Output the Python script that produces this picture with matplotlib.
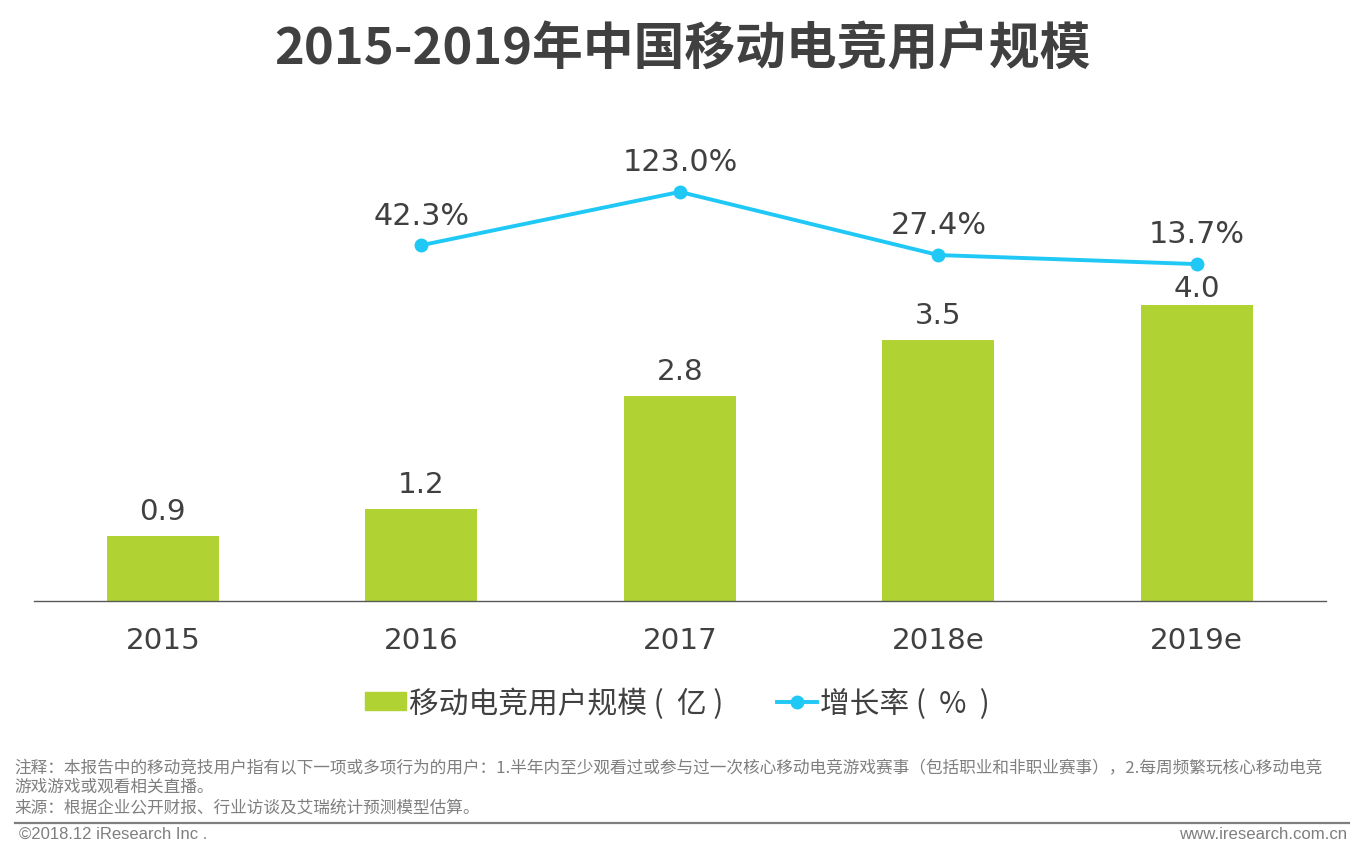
import matplotlib
matplotlib.use("Agg")
import matplotlib.pyplot as plt
from matplotlib.lines import Line2D
from matplotlib.patches import Patch

W, H = 1358, 854
CJK = ['Noto Sans CJK SC', 'DejaVu Sans']
plt.rcParams['font.family'] = CJK

years = ['2015', '2016', '2017', '2018e', '2019e']
users = [0.87, 1.24, 2.76, 3.52, 4.0]
growth_years = [1, 2, 3, 4]
growth = [42.3, 123.0, 27.4, 13.7]
title = '2015-2019年中国移动电竞用户规模'
legend_bar = '移动电竞用户规模 (  亿 )'
legend_line = '增长率 (  %  )'
note1 = '注释：本报告中的移动竞技用户指有以下一项或多项行为的用户：1.半年内至少观看过或参与过一次核心移动电竞游戏赛事（包括职业和非职业赛事），2.每周频繁玩核心移动电竞'
note2 = '游戏游戏或观看相关直播。'
note3 = '来源：根据企业公开财报、行业访谈及艾瑞统计预测模型估算。'
copyright_text = '©2018.12 iResearch Inc .'
site = 'www.iresearch.com.cn'

GREEN = '#B0D232'
BLUE = '#1FC8F5'
DARK = '#404040'
GREY = '#7F7F7F'

fig = plt.figure(figsize=(W / 100, H / 100), dpi=100, facecolor='white')
def fx(x): return x / W
def fy(y): return 1 - y / H

ax = fig.add_axes([fx(33.7), fy(601.5), (1326 - 33.7) / W, (601.5 - 100) / H])
ax.set_xlim(-0.5, 4.5)
ax.set_ylim(0, 501.5 / 74)
bars = ax.bar(range(len(users)), users, width=112 / 258.4, color=GREEN, zorder=2)
for s in ['top', 'left', 'right']:
    ax.spines[s].set_visible(False)
ax.spines['bottom'].set_color('#595959')
ax.spines['bottom'].set_linewidth(1)
ax.set_yticks([])
ax.set_xticks(range(len(years)))
ax.set_xticklabels(years, fontsize=21.2, color=DARK, family='DejaVu Sans')
ax.tick_params(axis='x', length=0, pad=18.5)
for i, v in enumerate(users):
    dy = 1.5 if i == len(users) - 1 else 8
    ax.annotate(f'{v:.1f}', (i, v), xytext=(0, dy), textcoords='offset points',
                ha='center', va='bottom', fontsize=21.2, color=DARK, family='DejaVu Sans')

ax2 = ax.twinx()
ax2.set_ylim(-495.5, 263.6)
ax2.set_yticks([])
for s in ax2.spines.values():
    s.set_visible(False)
line, = ax2.plot(growth_years, growth, color=BLUE, lw=2.8, marker='o', ms=9,
                 solid_capstyle='round', zorder=3)
for x, v in zip(growth_years, growth):
    ax2.annotate(f'{v:.1f}%', (x, v), xytext=(0, 11.3), textcoords='offset points',
                 ha='center', va='bottom', fontsize=21.8, color=DARK, family='DejaVu Sans')

fig.text(fx(682.5), fy(50), title, ha='center', va='center', fontsize=36.5,
         fontweight='bold', color=DARK)

leg = fig.legend([Patch(color=GREEN), Line2D([0], [0], color=BLUE, lw=2.8, marker='o', ms=9)],
                 [legend_bar, legend_line], loc='center', bbox_to_anchor=(fx(677.5), fy(704)),
                 ncol=2, frameon=False, fontsize=21.4, labelcolor=DARK,
                 handlelength=1.36, handleheight=0.55, handletextpad=0.1, columnspacing=1.8,
                 borderpad=0, borderaxespad=0)

for y, t in [(768.5, note1), (787.5, note2), (808.5, note3)]:
    fig.text(fx(14.5), fy(y), t, ha='left', va='center', fontsize=12.0, color=GREY)

fig.add_artist(Line2D([fx(15), fx(1349)], [fy(823.5), fy(823.5)], color=GREY, lw=1.6))
fig.text(fx(19), fy(839), copyright_text, ha='left', va='baseline', fontsize=12, color=GREY,
         family='Liberation Sans')
fig.text(fx(1347), fy(839), site, ha='right', va='baseline', fontsize=12.1, color=GREY,
         family='Liberation Sans')

fig.savefig('out.png', dpi=100, facecolor='white')
